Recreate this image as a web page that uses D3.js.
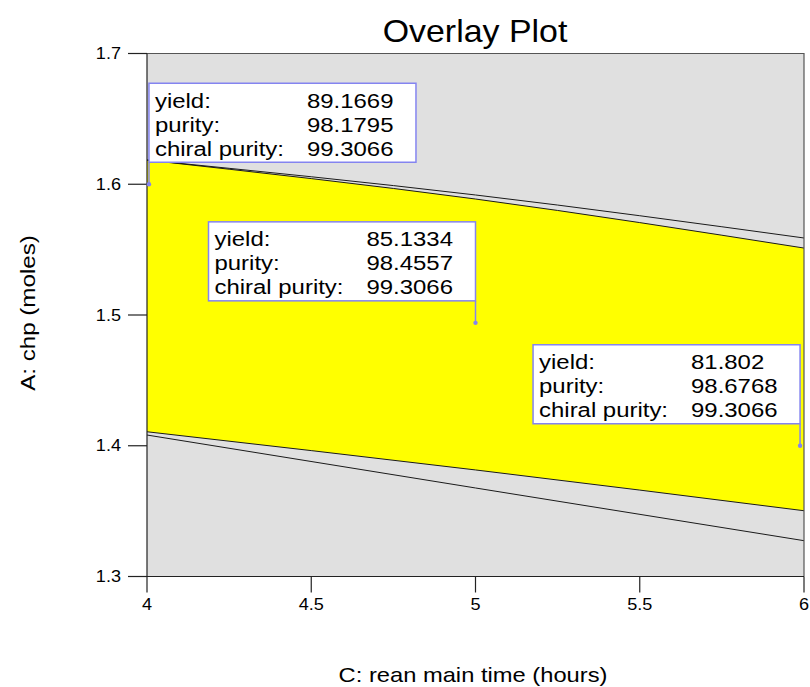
<!DOCTYPE html>
<html>
<head>
<meta charset="utf-8">
<script src="https://cdn.jsdelivr.net/npm/d3@7"></script>
<style>
  html, body { margin: 0; padding: 0; background: #ffffff; }
  svg { display: block; }
  text { font-family: "Liberation Sans", Arial, sans-serif; fill: #000; }
</style>
</head>
<body>
<svg id="chart" width="810" height="687"></svg>
<script>
// ---------- data ----------
const xDomain = [4, 6];
const yDomain = [1.3, 1.7];
const xTicks = [4, 4.5, 5, 5.5, 6];
const xTickLabels = ["4", "4.5", "5", "5.5", "6"];
const yTicks = [1.3, 1.4, 1.5, 1.6, 1.7];
const yTickLabels = ["1.3", "1.4", "1.5", "1.6", "1.7"];

const contourX = [4, 5, 6];
const upperContour = [1.6185, 1.5918, 1.5589];   // black line above the region
const regionTop = [1.6185, 1.5887, 1.5512];      // upper edge of the yellow region
const regionBottom = [1.4107, 1.3815, 1.3503];   // lower edge of the yellow region
const lowerContour = [1.4082, 1.3677, 1.3274];   // black line below the region

const flagX = [4.006, 5, 5.988];
const flagY = [1.6, 1.494, 1.4];
const flagSide = ["left", "right", "right"];
const flagLabels = ["yield:", "purity:", "chiral purity:"];
const yieldVals = ["89.1669", "85.1334", "81.802"];
const purityVals = ["98.1795", "98.4557", "98.6768"];
const chiralVals = ["99.3066", "99.3066", "99.3066"];

const titleText = "Overlay Plot";
const xTitle = "C: rean main time (hours)";
const yTitle = "A: chp (moles)";

// ---------- layout ----------
const L = 147, R = 804, T = 53.5, B = 576.5;
const svg = d3.select("#chart");
const x = d3.scaleLinear().domain(xDomain).range([L, R]);
const y = d3.scaleLinear().domain(yDomain).range([B, T]);
const SX = 1.13;

function stext(g, px, py, str, size, anchor, sx) {
  return g.append("text")
    .attr("transform", `translate(${px},${py}) scale(${sx},1)`)
    .attr("text-anchor", anchor)
    .style("font-size", size + "px")
    .text(str);
}

// plot background
svg.append("rect").attr("x", L).attr("y", T).attr("width", R - L).attr("height", B - T)
  .attr("fill", "#e0e0e0");

// yellow feasible region
const lineGen = d3.line().curve(d3.curveMonotoneX);
const areaGen = d3.area().curve(d3.curveMonotoneX)
  .x((d, i) => x(contourX[i])).y0((d, i) => y(regionBottom[i])).y1((d, i) => y(regionTop[i]));
svg.append("path").attr("d", areaGen(contourX)).attr("fill", "#ffff00");

// contour lines
[upperContour, regionTop, regionBottom, lowerContour].forEach(arr => {
  svg.append("path")
    .attr("d", lineGen(contourX.map((d, i) => [x(d), y(arr[i])])))
    .attr("fill", "none").attr("stroke", "#1a1a1a").attr("stroke-width", 1);
});

// frame top/right
svg.append("path").attr("d", `M${L},${T}H${R}V${B}`).attr("fill", "none")
  .attr("stroke", "#555").attr("stroke-width", 1.2);

// axes
const axG = svg.append("g");
axG.append("line").attr("x1", L).attr("x2", L).attr("y1", T).attr("y2", B)
  .attr("stroke", "#222").attr("stroke-width", 1.2);
axG.append("line").attr("x1", L).attr("x2", R).attr("y1", B).attr("y2", B)
  .attr("stroke", "#222").attr("stroke-width", 1.2);
yTicks.forEach((t, i) => {
  axG.append("line").attr("x1", L - 19).attr("x2", L).attr("y1", y(t)).attr("y2", y(t))
    .attr("stroke", "#222").attr("stroke-width", 1.2);
  stext(axG, 121, y(t) + 5.5, yTickLabels[i], 16, "end", SX);
});
xTicks.forEach((t, i) => {
  axG.append("line").attr("x1", x(t)).attr("x2", x(t)).attr("y1", B).attr("y2", B + 16)
    .attr("stroke", "#222").attr("stroke-width", 1.2);
  stext(axG, x(t), 610, xTickLabels[i], 16, "middle", SX);
});

// titles
stext(svg, 475, 42, titleText, 32, "middle", 1.06);
stext(svg, 473, 682, xTitle, 21, "middle", SX);
svg.append("text")
  .attr("transform", `translate(35,313) rotate(-90) scale(1.15,1)`)
  .attr("text-anchor", "middle")
  .style("font-size", "21px")
  .text(yTitle);

// flags
const BW = 267, BH = 79, GAP = 22;
const flagColor = "#8484f0";
flagX.forEach((fx, i) => {
  const px = x(fx), py = y(flagY[i]);
  const bx = flagSide[i] === "left" ? px : px - BW;
  const by = py - GAP - BH;
  const g = svg.append("g");
  g.append("line").attr("x1", px).attr("x2", px).attr("y1", by + BH).attr("y2", py)
    .attr("stroke", flagColor).attr("stroke-width", 1.5);
  g.append("circle").attr("cx", px).attr("cy", py).attr("r", 2.2).attr("fill", flagColor);
  g.append("rect").attr("x", bx).attr("y", by).attr("width", BW).attr("height", BH)
    .attr("fill", "#ffffff").attr("stroke", flagColor).attr("stroke-width", 1.5);
  const vals = [yieldVals[i], purityVals[i], chiralVals[i]];
  flagLabels.forEach((lab, j) => {
    stext(g, bx + 6, by + 24.5 + j * 24, lab, 21, "start", 1.14);
    stext(g, bx + 158, by + 24.5 + j * 24, vals[j], 21, "start", 1.14);
  });
});
</script>
</body>
</html>
